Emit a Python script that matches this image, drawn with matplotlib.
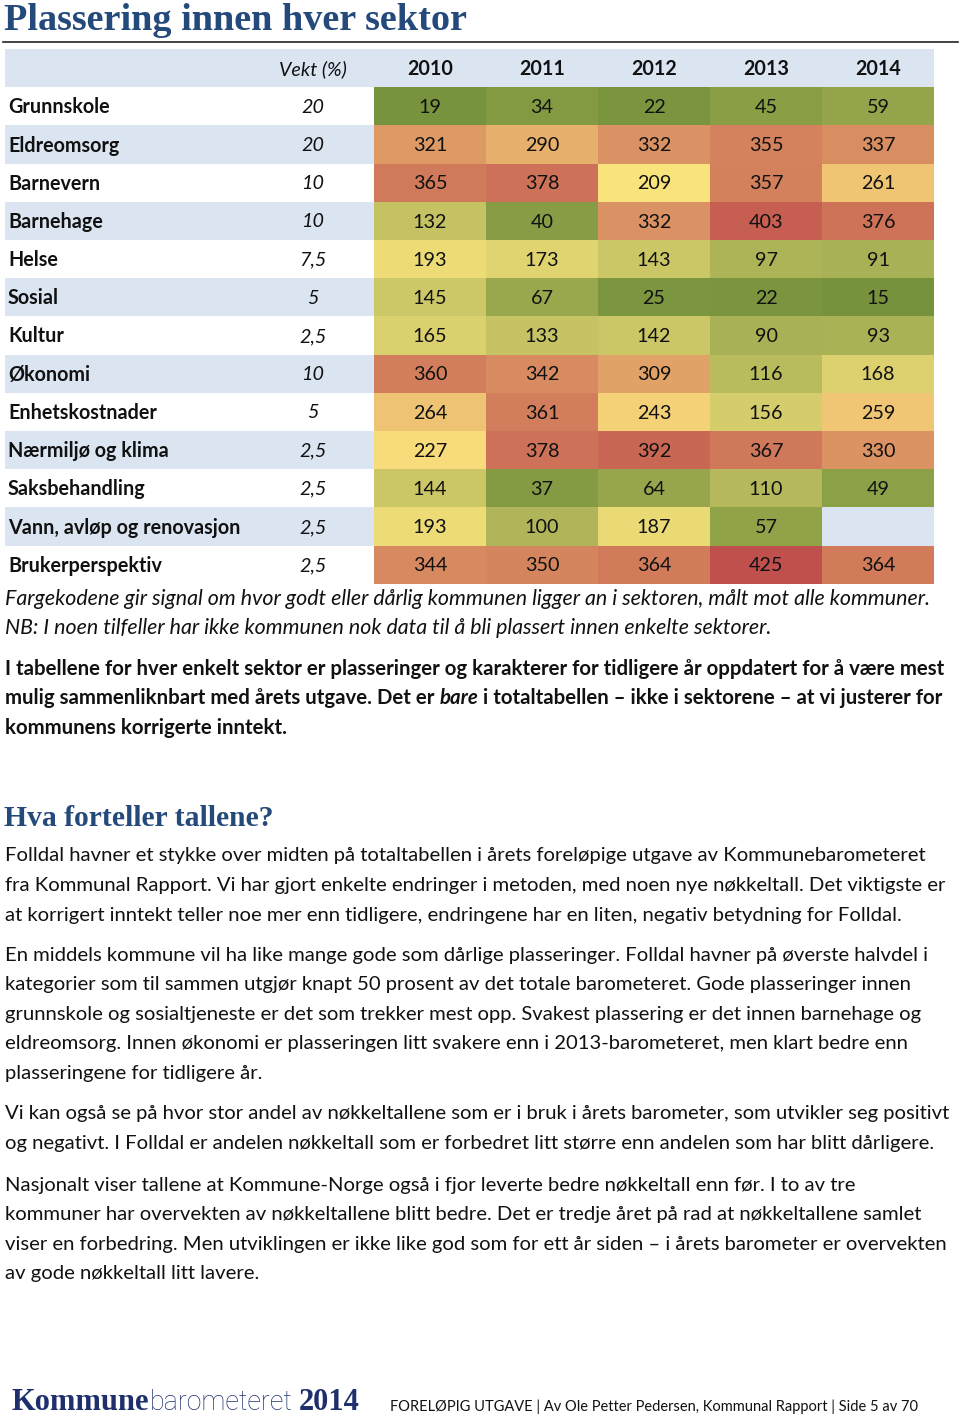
import numpy as np
import matplotlib
matplotlib.use("Agg")
import matplotlib.pyplot as plt
from matplotlib.colors import LinearSegmentedColormap, TwoSlopeNorm
from matplotlib.patches import Rectangle

# ---------------- data ----------------
sectors = ["Grunnskole", "Eldreomsorg", "Barnevern", "Barnehage", "Helse", "Sosial",
           "Kultur", "Økonomi", "Enhetskostnader", "Nærmiljø og klima",
           "Saksbehandling", "Vann, avløp og renovasjon", "Brukerperspektiv"]
weights = [20, 20, 10, 10, 7.5, 5, 2.5, 10, 5, 2.5, 2.5, 2.5, 2.5]
years = ["2010", "2011", "2012", "2013", "2014"]
rank_2010 = [19, 321, 365, 132, 193, 145, 165, 360, 264, 227, 144, 193, 344]
rank_2011 = [34, 290, 378, 40, 173, 67, 133, 342, 361, 378, 37, 100, 350]
rank_2012 = [22, 332, 209, 332, 143, 25, 142, 309, 243, 392, 64, 187, 364]
rank_2013 = [45, 355, 357, 403, 97, 22, 90, 116, 156, 367, 110, 57, 425]
rank_2014 = [59, 337, 261, 376, 91, 15, 93, 168, 259, 330, 49, np.nan, 364]

title = "Plassering innen hver sektor"
caption_lines = [
    "Fargekodene gir signal om hvor godt eller dårlig kommunen ligger an i sektoren, målt mot alle kommuner.",
    "NB: I noen tilfeller har ikke kommunen nok data til å bli plassert innen enkelte sektorer.",
]
bold_para = [
    [("I tabellene for hver enkelt sektor er plasseringer og karakterer for tidligere år oppdatert for å være mest", "normal")],
    [("mulig sammenliknbart med årets utgave. Det er ", "normal"), ("bare", "italic"),
     (" i totaltabellen – ikke i sektorene – at vi justerer for", "normal")],
    [("kommunens korrigerte inntekt.", "normal")],
]
heading2 = "Hva forteller tallene?"
paragraphs = [
    ["Folldal havner et stykke over midten på totaltabellen i årets foreløpige utgave av Kommunebarometeret",
     "fra Kommunal Rapport. Vi har gjort enkelte endringer i metoden, med noen nye nøkkeltall. Det viktigste er",
     "at korrigert inntekt teller noe mer enn tidligere, endringene har en liten, negativ betydning for Folldal."],
    ["En middels kommune vil ha like mange gode som dårlige plasseringer. Folldal havner på øverste halvdel i",
     "kategorier som til sammen utgjør knapt 50 prosent av det totale barometeret. Gode plasseringer innen",
     "grunnskole og sosialtjeneste er det som trekker mest opp. Svakest plassering er det innen barnehage og",
     "eldreomsorg. Innen økonomi er plasseringen litt svakere enn i 2013-barometeret, men klart bedre enn",
     "plasseringene for tidligere år."],
    ["Vi kan også se på hvor stor andel av nøkkeltallene som er i bruk i årets barometer, som utvikler seg positivt",
     "og negativt. I Folldal er andelen nøkkeltall som er forbedret litt større enn andelen som har blitt dårligere."],
    ["Nasjonalt viser tallene at Kommune-Norge også i fjor leverte bedre nøkkeltall enn før. I to av tre",
     "kommuner har overvekten av nøkkeltallene blitt bedre. Det er tredje året på rad at nøkkeltallene samlet",
     "viser en forbedring. Men utviklingen er ikke like god som for ett år siden – i årets barometer er overvekten",
     "av gode nøkkeltall litt lavere."],
]
footer = "FORELØPIG UTGAVE | Av Ole Petter Pedersen, Kommunal Rapport | Side 5 av 70"

# ---------------- style ----------------
W, H = 960, 1418
BODY = "Lato"
SERIF = "Liberation Serif"
TITLE_BLUE = "#244a7c"
BAND = "#dbe5f1"
TXT = "#111111"

fig = plt.figure(figsize=(W / 100, H / 100), dpi=100)
bg = fig.add_axes([0, 0, 1, 1])
bg.set_xlim(0, W)
bg.set_ylim(H, 0)
bg.axis("off")

# title + rule
bg.text(4, 21, title, fontsize=27.5, fontweight="bold", family=SERIF, color=TITLE_BLUE,
        va="center", ha="left")
bg.plot([3, 958], [42, 42], color="#222222", lw=1.2)

# table geometry
tab_left, tab_right = 5, 934
top = 49
row_h = 38.2
heat_left = 374
col_w = (tab_right - heat_left) / len(years)
n_rows = len(sectors) + 1

for i in range(n_rows):
    y0 = top + i * row_h
    if i % 2 == 0:
        bg.add_patch(Rectangle((tab_left, y0), tab_right - tab_left, row_h,
                               facecolor=BAND, edgecolor="none", zorder=0))

fs_tab = 14.2
yc = top + row_h / 2
bg.text(313, yc + 1, "Vekt (%)", style="italic", fontsize=fs_tab, family=BODY, color=TXT,
        ha="center", va="center")
for j, yr in enumerate(years):
    bg.text(heat_left + (j + 0.5) * col_w, yc + 1, yr, fontweight="bold", fontsize=fs_tab,
            family=BODY, color=TXT, ha="center", va="center")
for i, (s, w) in enumerate(zip(sectors, weights)):
    yc = top + (i + 1.5) * row_h
    bg.text(8, yc + 1, s, fontweight="bold", fontsize=fs_tab, family=BODY, color=TXT,
            ha="left", va="center")
    wtxt = (f"{w:g}").replace(".", ",")
    bg.text(313, yc + 1, wtxt, style="italic", fontsize=fs_tab, family=BODY, color=TXT,
            ha="center", va="center")

# heatmap
data = np.array([rank_2010, rank_2011, rank_2012, rank_2013, rank_2014], dtype=float).T
cmap = LinearSegmentedColormap.from_list("gyr", ["#76923c", "#fce57e", "#c0504d"])
norm = TwoSlopeNorm(vmin=15, vcenter=215, vmax=425)
hh = len(sectors) * row_h / H
ax = fig.add_axes([heat_left / W, 1 - (top + n_rows * row_h) / H, (tab_right - heat_left) / W, hh])
ax.patch.set_alpha(0)
masked = np.ma.masked_invalid(data)
ax.pcolormesh(np.arange(len(years) + 1), np.arange(len(sectors) + 1), masked,
              cmap=cmap, norm=norm, shading="flat")
ax.set_xlim(0, len(years))
ax.set_ylim(len(sectors), 0)
ax.axis("off")
for i in range(len(sectors)):
    for j in range(len(years)):
        v = data[i, j]
        if not np.isnan(v):
            ax.text(j + 0.5, i + 0.53, f"{int(v)}", ha="center", va="center",
                    fontsize=fs_tab, family=BODY, color=TXT)

# helper for mixed-style runs
fig.canvas.draw()
renderer = fig.canvas.get_renderer()


def runs(x, y, segs, **kw):
    for txt, st in segs:
        t = bg.text(x, y, txt, style=st, ha="left", va="center", **kw)
        bb = t.get_window_extent(renderer=renderer)
        x += bb.width


# caption
for k, line in enumerate(caption_lines):
    bg.text(5, 599 + k * 29.5, line, style="italic", fontsize=15.4, family=BODY,
            color=TXT, ha="left", va="center")
# bold paragraph
for k, segs in enumerate(bold_para):
    runs(5, 669 + k * 29.5, segs, fontsize=14.7, family=BODY, fontweight="bold", color=TXT)

# heading 2
bg.text(4, 818, heading2, fontsize=21.3, fontweight="bold", family=SERIF, color=TITLE_BLUE,
        ha="left", va="center")

fs_body = 14.6
para_tops = [856, 955, 1114, 1185]
for p, lines in zip(para_tops, paragraphs):
    for k, line in enumerate(lines):
        bg.text(5, p + k * 29.6, line, fontsize=fs_body, family=BODY, color=TXT,
                ha="left", va="center")

# footer
fy = 1403
x = 12
for txt, fam, wt, col, fs, gap in [("Kommune", SERIF, "bold", "#1f2f6e", 22, 0),
                                   ("barometeret", "Roboto", "light", "#1f2f6e", 19.3, 6),
                                   ("2014", SERIF, "bold", "#1f2f6e", 22, 0)]:
    t = bg.text(x, fy, txt, family=fam, fontweight=wt, color=col, fontsize=fs,
                ha="left", va="center")
    x += t.get_window_extent(renderer=renderer).width + gap
bg.text(390, fy + 4, footer, fontsize=10.5, family=BODY, color=TXT, ha="left", va="center")

fig.savefig("out.png", dpi=100)
